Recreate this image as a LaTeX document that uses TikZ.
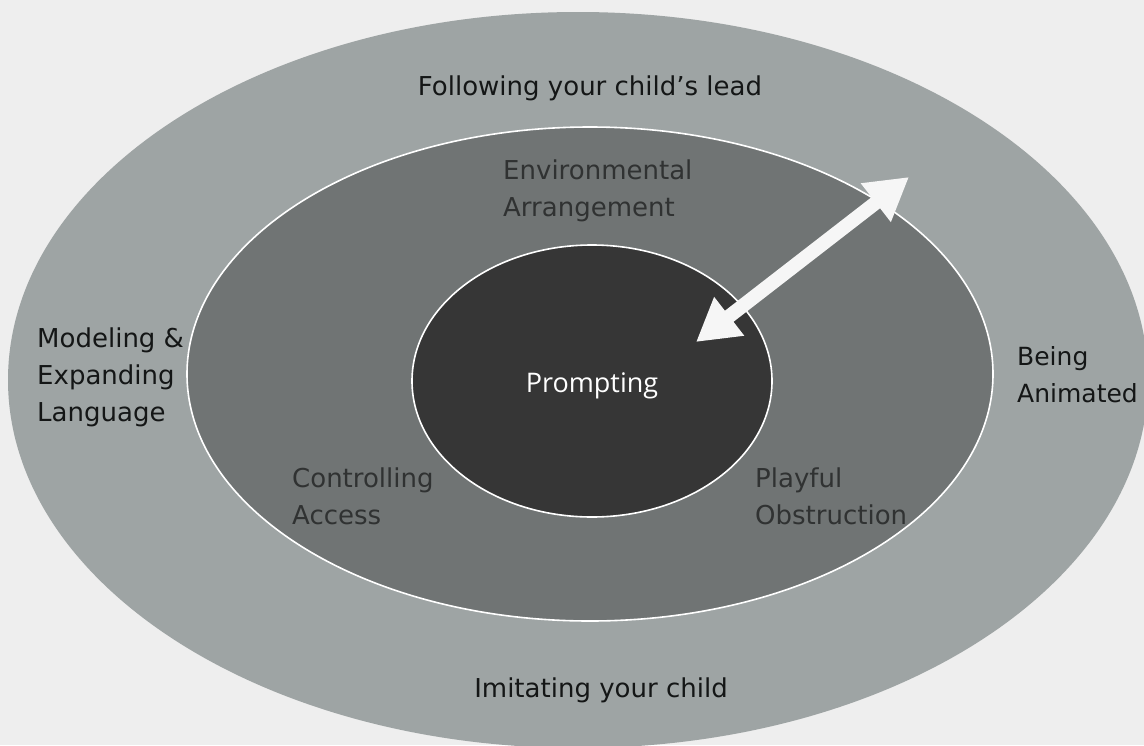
\documentclass[tikz,border=0pt]{standalone}
\usepackage{fontspec}
\setmainfont{DejaVu Sans}
\newfontfamily\promptfont{Open Sans}
\usetikzlibrary{arrows.meta}
\definecolor{bgcol}{RGB}{238,238,238}
\definecolor{outercol}{RGB}{158,164,164}
\definecolor{midcol}{RGB}{112,116,116}
\definecolor{innercol}{RGB}{54,54,54}
\definecolor{outertext}{RGB}{20,22,22}
\definecolor{midtext}{RGB}{48,50,50}
\definecolor{arrowcol}{RGB}{246,246,246}
\begin{document}
\begin{tikzpicture}[x=1pt,y=-1pt,
  ring/.style={draw=white, line width=1.6pt},
  outerlabel/.style={font=\fontsize{26}{37}\selectfont, text=outertext, inner sep=0pt, align=left},
  sidelabel/.style={font=\fontsize{25}{37}\selectfont, text=outertext, inner sep=0pt, align=left},
  midlabel/.style={font=\fontsize{26}{37}\selectfont, text=midtext, inner sep=0pt, align=left},
  promptlabel/.style={font=\promptfont\fontsize{27}{32}\selectfont, text=white, inner sep=0pt},
  bigarrow/.style={arrowcol, line width=14pt,
    {Triangle[length=42pt,width=46pt]}-{Triangle[length=42pt,width=46pt]}}
]
\useasboundingbox (0,0) rectangle (1144,745);
\clip (0,0) rectangle (1144,745);
\fill[bgcol] (0,0) rectangle (1144,745);
% rings
\path[fill=outercol] (578,380) ellipse [x radius=570, y radius=368];
\path[ring, fill=midcol] (590,374) ellipse [x radius=403, y radius=247];
\path[ring, fill=innercol] (592,381) ellipse [x radius=180, y radius=136];
% labels
\node[outerlabel, anchor=base] (follow) at (590,95) {Following your child’s lead};
\node[midlabel, anchor=north west] (env) at (503,160) {Environmental\\Arrangement};
\node[outerlabel, anchor=north west] (model) at (37,328) {Modeling \&\\Expanding\\Language};
\node[promptlabel, anchor=base] (prompt) at (592,392) {Prompting};
\node[sidelabel, anchor=north west] (being) at (1017,346) {Being\\Animated};
\node[midlabel, anchor=north west] (control) at (292,468) {Controlling\\Access};
\node[midlabel, anchor=north west] (playful) at (755,468) {Playful\\Obstruction};
\node[outerlabel, anchor=base] (imitate) at (601,697) {Imitating your child};
% double arrow
\coordinate (tipA) at (696,342);
\coordinate (tipB) at (909,177);
\draw[bigarrow] (tipA) -- (tipB);
\end{tikzpicture}
\end{document}
